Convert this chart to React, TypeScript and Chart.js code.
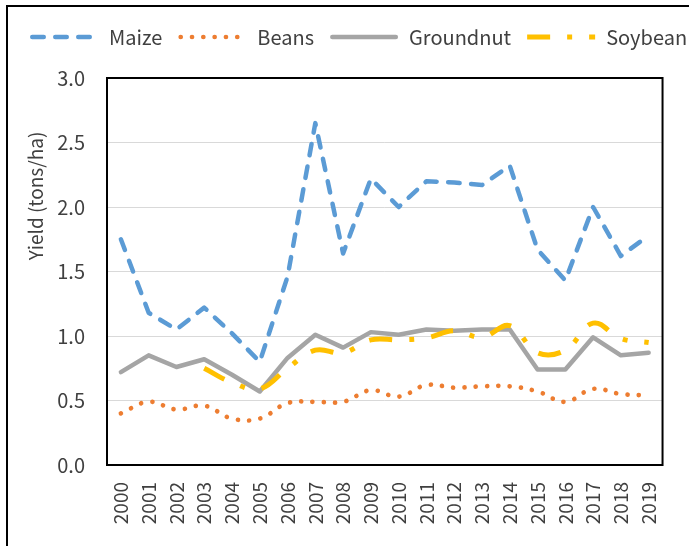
import React, { useEffect, useRef } from 'react';
import { Chart, registerables } from 'chart.js';

Chart.register(...registerables);

const years = ['2000', '2001', '2002', '2003', '2004', '2005', '2006', '2007', '2008', '2009', '2010', '2011', '2012', '2013', '2014', '2015', '2016', '2017', '2018', '2019'];
const maize = [1.75, 1.18, 1.05, 1.22, 1.02, 0.8, 1.46, 2.65, 1.64, 2.22, 2.0, 2.2, 2.19, 2.17, 2.32, 1.67, 1.43, 2.0, 1.62, 1.78];
const beans = [0.4, 0.49, 0.43, 0.46, 0.36, 0.36, 0.48, 0.49, 0.49, 0.58, 0.53, 0.62, 0.6, 0.61, 0.61, 0.57, 0.49, 0.59, 0.55, 0.54];
const groundnut = [0.72, 0.85, 0.76, 0.82, 0.7, 0.57, 0.83, 1.01, 0.91, 1.03, 1.01, 1.05, 1.04, 1.05, 1.05, 0.74, 0.74, 0.99, 0.85, 0.87];
const soybean = [null, null, null, 0.75, 0.64, 0.59, 0.75, 0.89, 0.87, 0.97, 0.97, 0.985, 1.04, 0.99, 1.08, 0.87, 0.89, 1.1, 0.98, 0.95];
const seriesNames = ['Maize', 'Beans', 'Groundnut', 'Soybean'];
const yMin = 0;
const yMax = 3;
const yStep = 0.5;
const yTitle = 'Yield (tons/ha)';

const FONT = '"Noto Sans CJK JP", "Noto Sans", sans-serif';
const TEXT = '#404040';

export default function App() {
  const ref = useRef<HTMLCanvasElement>(null);

  useEffect(() => {
    if (!ref.current) return;

    const background = {
      id: 'background',
      beforeDraw(chart: any) {
        const ctx = chart.ctx;
        ctx.save();
        ctx.fillStyle = '#ffffff';
        ctx.fillRect(0, 0, chart.width, chart.height);
        ctx.strokeStyle = '#000000';
        ctx.lineWidth = 2;
        ctx.strokeRect(7, 6, chart.width + 40, chart.height + 40);
        ctx.restore();
      },
    };

    const plotBorder = {
      id: 'plotBorder',
      beforeDatasetsDraw(chart: any) {
        const { left, top, right, bottom } = chart.chartArea;
        const ctx = chart.ctx;
        ctx.save();
        ctx.strokeStyle = '#000000';
        ctx.lineWidth = 2;
        ctx.strokeRect(left, top, right - left, bottom - top);
        ctx.restore();
      },
    };

    const yTitlePlugin = {
      id: 'yTitle',
      afterDraw(chart: any) {
        const { left, top } = chart.chartArea;
        const ctx = chart.ctx;
        ctx.save();
        ctx.translate(left - 71, top + 118);
        ctx.rotate(-Math.PI / 2);
        ctx.font = `19px ${FONT}`;
        ctx.fillStyle = TEXT;
        ctx.textAlign = 'center';
        ctx.textBaseline = 'middle';
        ctx.fillText(yTitle, 0, 0);
        ctx.restore();
      },
    };

    // Legend drawn from the datasets' own styles, laid out in one row
    const legendPlugin = {
      id: 'rowLegend',
      afterDraw(chart: any) {
        const ctx = chart.ctx;
        const sampleLen = 68;
        const textOffset = 79;
        const itemGap = 16;
        const cy = 37;
        let x = 30;
        ctx.save();
        ctx.font = `20px ${FONT}`;
        ctx.textBaseline = 'middle';
        ctx.textAlign = 'left';
        chart.data.datasets.forEach((ds: any) => {
          const cap = ds.borderCapStyle === 'round' ? ds.borderWidth / 2 : 0;
          ctx.save();
          ctx.strokeStyle = ds.borderColor;
          ctx.lineWidth = ds.borderWidth;
          ctx.lineCap = ds.borderCapStyle || 'butt';
          ctx.setLineDash(ds.borderDash || []);
          ctx.beginPath();
          ctx.moveTo(x + cap, cy);
          ctx.lineTo(x + sampleLen - cap, cy);
          ctx.stroke();
          ctx.restore();
          ctx.fillStyle = TEXT;
          ctx.fillText(ds.label, x + textOffset, cy);
          x += textOffset + ctx.measureText(ds.label).width + itemGap;
        });
        ctx.restore();
      },
    };

    const chart = new Chart(ref.current, {
      type: 'line',
      data: {
        labels: years,
        datasets: [
          {
            label: seriesNames[0],
            data: maize,
            borderColor: '#5B9BD5',
            backgroundColor: '#5B9BD5',
            borderWidth: 4.5,
            borderDash: [11.5, 11.5],
            borderCapStyle: 'round',
            borderJoinStyle: 'round',
            tension: 0,
            pointRadius: 0,
            order: 3,
            xAxisID: 'x',
            yAxisID: 'y',
          },
          {
            label: seriesNames[1],
            data: beans,
            borderColor: '#ED7D31',
            backgroundColor: '#ED7D31',
            borderWidth: 4.7,
            borderDash: [0.01, 11.3],
            borderCapStyle: 'round',
            borderJoinStyle: 'round',
            tension: 0.4,
            pointRadius: 0,
            order: 2,
            xAxisID: 'x',
            yAxisID: 'y',
          },
          {
            label: seriesNames[2],
            data: groundnut,
            borderColor: '#A5A5A5',
            backgroundColor: '#A5A5A5',
            borderWidth: 4.5,
            borderCapStyle: 'round',
            borderJoinStyle: 'round',
            tension: 0,
            pointRadius: 0,
            order: 1,
            xAxisID: 'x',
            yAxisID: 'y',
          },
          {
            label: seriesNames[3],
            data: soybean,
            borderColor: '#FFC000',
            backgroundColor: '#FFC000',
            borderWidth: 5,
            borderDash: [23, 17, 5, 17],
            borderCapStyle: 'butt',
            borderJoinStyle: 'round',
            tension: 0.4,
            pointRadius: 0,
            spanGaps: false,
            order: 0,
            xAxisID: 'x',
            yAxisID: 'y',
          },
        ],
      },
      options: {
        responsive: false,
        animation: false,
        devicePixelRatio: 1,
        layout: { padding: { top: 78, left: 26, right: 22, bottom: 0 } },
        plugins: {
          legend: { display: false },
          tooltip: { enabled: false },
        },
        scales: {
          x: {
            type: 'category',
            position: 'bottom',
            offset: true,
            grid: { display: false, drawTicks: false },
            border: { display: false },
            ticks: {
              font: { family: FONT, size: 19 },
              color: TEXT,
              minRotation: 90,
              maxRotation: 90,
              autoSkip: false,
              padding: 17,
            },
            afterFit(s: any) {
              s.height = 81;
            },
          },
          y: {
            type: 'linear',
            position: 'left',
            min: yMin,
            max: yMax,
            grid: { color: '#D9D9D9', lineWidth: 1, drawTicks: false },
            border: { display: false },
            ticks: {
              stepSize: yStep,
              font: { family: FONT, size: 20 },
              color: TEXT,
              padding: 22,
              callback: (v: any) => Number(v).toFixed(1),
            },
            afterFit(s: any) {
              s.width = 81;
            },
          },
        },
      },
      plugins: [background, plotBorder, yTitlePlugin, legendPlugin],
    } as any);

    return () => chart.destroy();
  }, []);

  return (
    <div style={{ position: 'fixed', left: 0, top: 0, width: 689, height: 546 }}>
      <canvas ref={ref} width={689} height={546} style={{ display: 'block' }} />
    </div>
  );
}
